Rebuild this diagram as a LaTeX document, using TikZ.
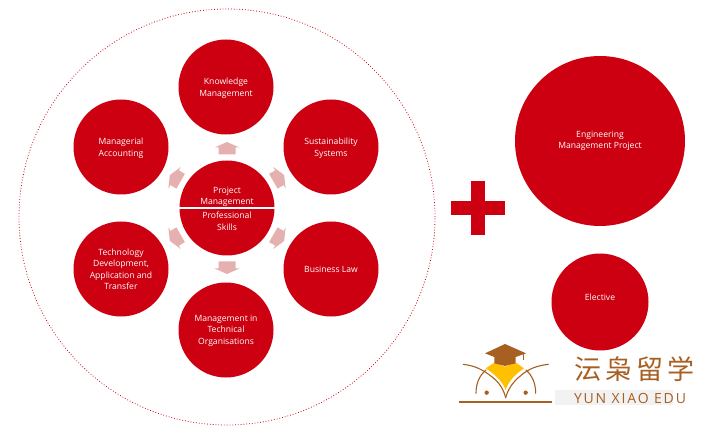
\documentclass[tikz,border=0pt]{standalone}
\usepackage{fontspec}
\setmainfont{Open Sans}
\newfontfamily\cjkfont[LetterSpace=16]{Noto Sans CJK SC}
\newfontfamily\latinlogo[LetterSpace=13]{Open Sans}
\definecolor{brandred}{HTML}{CC0010}
\definecolor{palearrow}{HTML}{E4B0B0}
\definecolor{logobrown}{HTML}{A85F22}
\definecolor{logogold}{HTML}{FFC000}
\tikzset{
  topic/.style={circle,fill=brandred,minimum size=95pt,inner sep=0pt},
  flowarrow/.style={fill=palearrow,draw=none},
  logoline/.style={draw=logobrown,line width=1.1pt,line cap=round},
  plain/.style={inner sep=0pt,text=white,align=center,font=\fontsize{8.6}{11.5}\selectfont}
}
\begin{document}
\begin{tikzpicture}[x=1pt,y=-1pt]
\useasboundingbox (0,0) rectangle (711,435);
\node[circle,draw=brandred,dotted,line width=0.8pt,minimum size=416pt,inner sep=0pt] (outer) at (227,217) {};
\node[topic] (know) at (226,87) {};
\node[topic] (sust) at (331,147) {};
\node[topic] (bus) at (331,269) {};
\node[topic] (mito) at (226,330) {};
\node[topic] (tech) at (121,269) {};
\node[topic] (acct) at (121,147) {};
\node[topic] (core) at (227,208) {};
\node[topic,minimum size=170pt] (proj) at (600,141) {};
\node[topic,minimum size=97pt] (elec) at (600,302) {};
\node[plain] (knowt) at (226,88.5) {Knowledge\\Management};
\node[plain] (sustt) at (331,148.5) {Sustainability\\Systems};
\node[plain] (bust) at (331,269.5) {Business Law};
\node[plain] (mitot) at (226,330.5) {Management in\\Technical\\Organisations};
\node[plain] (techt) at (121,269.5) {Technology\\Development,\\Application and\\Transfer};
\node[plain] (acctt) at (121,148.5) {Managerial\\Accounting};
\draw[white,line width=2pt] (core.west) -- (core.east);
\node[plain,anchor=south] (pm) at (227,207) {Project\\Management};
\node[plain,anchor=north] (ps) at (227,212) {Professional\\Skills};
\node[plain] (projt) at (600,141) {Engineering\\Management Project};
\node[plain] (elect) at (600,297) {Elective};
\foreach \a in {0,60,120,180,240,300}{
  \fill[flowarrow,rotate around={\a:(227,208)}]
    (227,142) -- (239.5,147.5) -- (235.5,147.5) -- (235.5,154.5) -- (218.5,154.5) -- (218.5,147.5) -- (214.5,147.5) -- cycle;
}
\fill[brandred] (451,201) rectangle (505,215);
\fill[brandred] (471,181) rectangle (485,235);
% logo
\fill[gray!10] (555,390) rectangle (673,405);
\begin{scope}[shift={(450,335)},x=0.3333pt,y=-0.3333pt]
  \fill[logogold] (107,100) -- (133,83) -- (165,95) -- (198,83) -- (222,100) .. controls (195,118) and (175,140) .. (167,165) .. controls (158,140) and (135,118) .. (107,100) -- cycle;
  \fill[logobrown] (105,55) -- (165,27) -- (228,55) -- (197,66) -- (197,85) -- (165,93) -- (133,85) -- (133,66) -- cycle;
  \draw[logobrown,line width=0.6pt] (221,56) -- (221,76);
  \draw[logoline] (40,88) .. controls (75,92) and (100,105) .. (125,125) .. controls (145,140) and (160,160) .. (167,188);
  \draw[logoline] (295,88) .. controls (260,92) and (235,102) .. (212,122) .. controls (190,140) and (175,160) .. (167,188);
  \draw[logoline] (78,175) .. controls (78,145) and (88,122) .. (108,105);
  \draw[logoline] (257,175) .. controls (257,145) and (247,122) .. (228,105);
  \fill[logobrown] (110,173) circle (6.5);
  \fill[logobrown] (227,173) circle (6.5);
  \draw[logobrown,line width=1.2pt] (27,201) -- (307,201);
\end{scope}
\node[inner sep=0pt,text=logobrown,font=\cjkfont\fontsize{27}{27}\selectfont,anchor=center] (cn) at (634.5,369) {沄枭留学};
\node[inner sep=0pt,text=logobrown,font=\latinlogo\fontsize{14}{14}\selectfont,anchor=center] (en) at (630,398) {YUN XIAO EDU};
\end{tikzpicture}
\end{document}
